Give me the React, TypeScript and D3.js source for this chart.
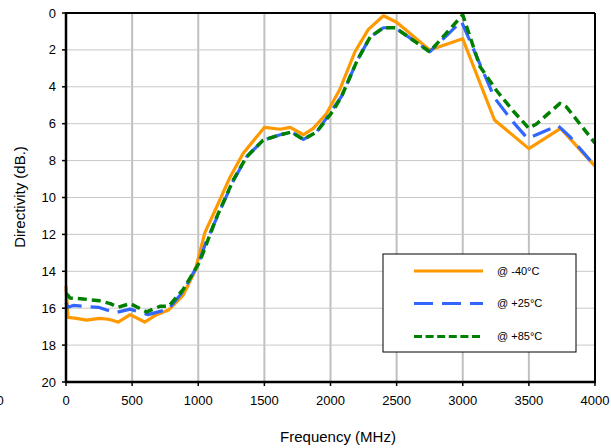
import React from "react";
import * as d3 from "d3";

const xTicks = [0, 500, 1000, 1500, 2000, 2500, 3000, 3500, 4000];
const yTicks = [0, 2, 4, 6, 8, 10, 12, 14, 16, 18, 20];

const fM40 = [0, 15, 80, 155, 255, 320, 395, 485, 595, 685, 775, 885, 975, 1050, 1140, 1240, 1340, 1500, 1620, 1695, 1795, 1870, 1970, 2070, 2185, 2285, 2400, 2500, 2750, 3000, 3240, 3500, 3740, 4000];
const vM40 = [14.8, 16.5, 16.55, 16.65, 16.55, 16.6, 16.75, 16.35, 16.75, 16.35, 16.1, 15.3, 14.0, 11.9, 10.5, 8.9, 7.6, 6.2, 6.3, 6.2, 6.6, 6.25, 5.45, 4.15, 2.1, 0.9, 0.15, 0.5, 2.0, 1.4, 5.8, 7.35, 6.25, 8.3];

const fP25 = [0, 15, 55, 130, 245, 370, 485, 620, 775, 885, 1000, 1060, 1140, 1265, 1365, 1490, 1620, 1705, 1795, 1895, 1970, 2085, 2200, 2300, 2400, 2490, 2750, 2990, 3240, 3380, 3490, 3720, 3810, 4000];
const vP25 = [15.7, 15.95, 15.85, 15.9, 15.95, 16.25, 16.05, 16.35, 16.05, 15.1, 13.6, 12.4, 11.1, 9.1, 7.8, 6.9, 6.6, 6.45, 6.85, 6.45, 5.7, 4.5, 2.6, 1.3, 0.8, 0.8, 2.1, 0.45, 4.6, 5.9, 6.8, 6.1, 6.7, 8.3];

const fP85 = [0, 15, 30, 130, 255, 335, 395, 485, 610, 710, 775, 885, 1010, 1140, 1265, 1365, 1490, 1620, 1705, 1795, 1895, 2020, 2085, 2200, 2300, 2400, 2490, 2750, 3000, 3130, 3255, 3380, 3500, 3560, 3735, 3785, 4000];
const vP85 = [15.2, 15.3, 15.45, 15.5, 15.6, 15.75, 15.95, 15.75, 16.2, 15.9, 15.9, 15.0, 13.5, 11.05, 9.05, 7.8, 6.9, 6.6, 6.45, 6.85, 6.45, 5.3, 4.5, 2.6, 1.3, 0.8, 0.8, 2.1, 0.1, 2.9, 4.2, 5.3, 6.25, 6.0, 4.9, 5.1, 7.05];

const seriesNames = ["@ -40°C", "@ +25°C", "@ +85°C"];
const colors = ["#FF9900", "#3366FF", "#008000"];
const dashes = ["none", "19,9", "9,5"];

export default function App() {
  const W = 611, H = 448;
  const left = 66, right = 595, top = 13, bottom = 382;
  const x = d3.scaleLinear().domain([0, 4000]).range([left, right]);
  const y = d3.scaleLinear().domain([0, 20]).range([top, bottom]);
  const line = d3.line<[number, number]>().x(d => x(d[0])).y(d => y(d[1]));
  const data: [number, number][][] = [
    fM40.map((f, i) => [f, vM40[i]]),
    fP25.map((f, i) => [f, vP25[i]]),
    fP85.map((f, i) => [f, vP85[i]]),
  ];
  const font = "Arial, 'Liberation Sans', sans-serif";
  const legY = [271, 303.5, 336.5];
  return (
    <svg width={W} height={H} style={{ position: "absolute", left: 0, top: 0, background: "#fff" }} fontFamily={font}>
      {xTicks.slice(1, -1).map(t => (
        <line key={"gx" + t} x1={x(t)} x2={x(t)} y1={top} y2={bottom} stroke="#c0c0c0" strokeWidth={2} />
      ))}
      {yTicks.slice(1, -1).map(t => (
        <line key={"gy" + t} x1={left} x2={right} y1={y(t)} y2={y(t)} stroke="#c8c8c8" strokeWidth={1} />
      ))}
      {data.map((d, i) => (
        <path key={"s" + i} d={line(d) || ""} fill="none" stroke={colors[i]} strokeWidth={i === 2 ? 3.5 : 3.2}
          strokeDasharray={dashes[i]} strokeLinejoin="round" />
      ))}
      <line x1={left} x2={right} y1={top} y2={top} stroke="#000" strokeWidth={2} />
      <line x1={right} x2={right} y1={top} y2={bottom} stroke="#000" strokeWidth={2} />
      <line x1={left} x2={left} y1={top - 1} y2={bottom + 1} stroke="#000" strokeWidth={2.5} />
      <line x1={left - 1} x2={right + 1} y1={bottom} y2={bottom} stroke="#000" strokeWidth={2.5} />
      {yTicks.map(t => (
        <g key={"yt" + t}>
          <line x1={left - 4} x2={left} y1={y(t)} y2={y(t)} stroke="#000" strokeWidth={1.5} />
          <text x={56} y={y(t)} dy="0.35em" textAnchor="end" fontSize={13} fill="#000">{t}</text>
        </g>
      ))}
      {xTicks.map(t => (
        <g key={"xt" + t}>
          <line x1={x(t)} x2={x(t)} y1={bottom} y2={bottom + 4} stroke="#000" strokeWidth={1.5} />
          <text x={x(t)} y={405} textAnchor="middle" fontSize={13} fill="#000">{t}</text>
        </g>
      ))}
      <text x={-3.5} y={405} textAnchor="start" fontSize={13} fill="#000">0</text>
      <text x={338} y={442} textAnchor="middle" fontSize={15} fill="#000">Frequency (MHz)</text>
      <text transform={`translate(25,197) rotate(-90)`} textAnchor="middle" fontSize={15} fill="#000">Directivity (dB.)</text>
      <rect x={383} y={254} width={193} height={98} fill="#fff" stroke="#000" strokeWidth={1} />
      {seriesNames.map((n, i) => (
        <g key={"lg" + i}>
          <line x1={414} x2={483} y1={legY[i]} y2={legY[i]} stroke={colors[i]} strokeWidth={3}
            strokeDasharray={i === 0 ? "none" : i === 1 ? "19,9" : "8,3.6"} />
          <text x={497} y={legY[i]} dy="0.35em" fontSize={11} fill="#000">{n}</text>
        </g>
      ))}
    </svg>
  );
}
